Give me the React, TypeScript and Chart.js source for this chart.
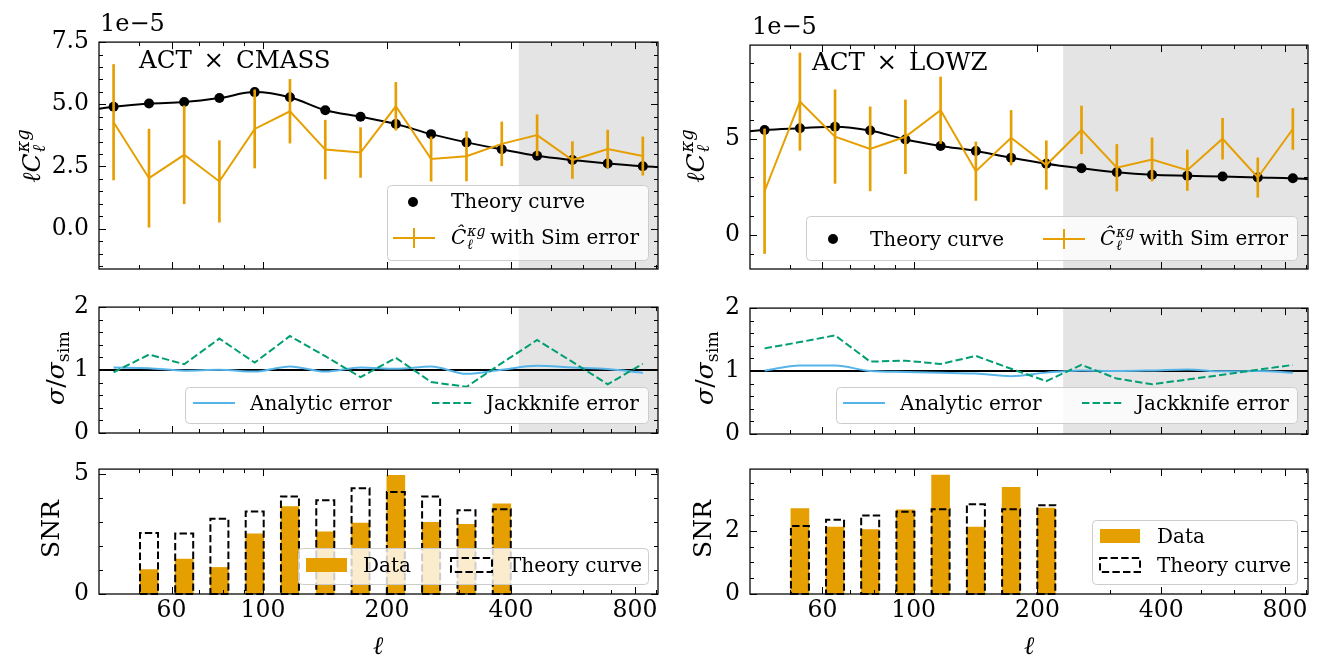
import React, { useEffect, useRef } from "react";
import { Chart, registerables } from "chart.js";

Chart.register(...registerables);

const FONT = "'DejaVu Serif', 'Liberation Serif', serif";
const ORANGE = "#E69F00";
const BLUE = "#56B4E9";
const GREEN = "#009E73";
const SHADE = "#e4e4e4";
const TICK_SIZE = 23.5;

// ---------------- data ----------------
const ELL = [43.4, 52.9, 64.4, 78.4, 95.5, 116.3, 141.7, 172.6, 210.2, 256, 312, 380, 463, 564, 687, 836];
const ELL_RANGE = [40, 910];
const X_MAJOR = [60, 100, 200, 400, 800];
const X_MINOR = [50, 70, 80, 90, 300, 500, 600, 700, 900];
const UNITY = [1, 1];

// ACT x CMASS
const CMASS_THEORY = [4.9, 5.03, 5.09, 5.25, 5.49, 5.28, 4.76, 4.5, 4.21, 3.8, 3.47, 3.19, 2.93, 2.76, 2.62, 2.51];
const CMASS_THEORY_EDGES = [4.82, 2.48];
const CMASS_DATA = [4.28, 2.03, 2.97, 1.9, 4.01, 4.72, 3.18, 3.06, 4.92, 2.8, 2.91, 3.41, 3.76, 2.76, 3.2, 2.92];
const CMASS_SIM_ERR = [2.32, 1.97, 1.97, 1.64, 1.57, 1.28, 1.18, 1.0, 0.96, 0.89, 0.99, 0.88, 0.82, 0.74, 0.76, 0.77];
const CMASS_ANALYTIC = [1.04, 1.03, 0.99, 1.005, 0.975, 1.057, 0.975, 1.04, 1.02, 1.056, 0.94, 1.005, 1.067, 1.04, 1.015, 0.954];
const CMASS_JACKKNIFE = [0.965, 1.246, 1.092, 1.5, 1.118, 1.54, 1.22, 0.887, 1.195, 0.81, 0.733, 1.11, 1.477, 1.13, 0.774, 1.1];
const CMASS_SNR_ELL = ELL.slice(1, 12);
const CMASS_SNR_DATA = [1.02, 1.46, 1.11, 2.51, 3.65, 2.6, 2.96, 4.96, 3.0, 2.91, 3.77];
const CMASS_SNR_THEORY = [2.55, 2.53, 3.14, 3.45, 4.08, 3.92, 4.42, 4.26, 4.08, 3.5, 3.54];
const CMASS_CUT = 418;

// ACT x LOWZ
const LOWZ_THEORY = [5.48, 5.57, 5.65, 5.45, 4.98, 4.64, 4.38, 4.02, 3.71, 3.47, 3.26, 3.13, 3.08, 3.04, 2.99, 2.95];
const LOWZ_THEORY_EDGES = [5.41, 2.9];
const LOWZ_DATA = [2.27, 6.96, 5.13, 4.49, 5.12, 6.51, 3.32, 5.07, 3.64, 5.48, 3.5, 3.93, 3.37, 5.02, 2.99, 5.53];
const LOWZ_SIM_ERR = [3.26, 2.55, 2.45, 2.2, 1.93, 1.74, 1.53, 1.43, 1.27, 1.25, 1.22, 1.13, 1.06, 1.07, 1.03, 1.07];
const LOWZ_ANALYTIC = [1.01, 1.088, 1.088, 1.0, 0.985, 0.974, 0.96, 0.918, 0.975, 1.01, 1.0, 1.01, 1.026, 0.995, 1.0, 0.974];
const LOWZ_JACKKNIFE = [1.36, 1.46, 1.567, 1.15, 1.165, 1.113, 1.24, 1.036, 0.84, 1.098, 0.88, 0.79, 0.866, 0.94, 1.02, 1.098];
const LOWZ_SNR_ELL = ELL.slice(1, 9);
const LOWZ_SNR_DATA = [2.7, 2.12, 2.04, 2.66, 3.76, 2.12, 3.37, 2.72];
const LOWZ_SNR_THEORY = [2.15, 2.35, 2.48, 2.6, 2.68, 2.84, 2.68, 2.81];
const LOWZ_CUT = 231;

// axis ticks
const CMASS_Y1_RANGE = [-1.62, 7.5];
const CMASS_Y1_MAJOR = [0, 2.5, 5, 7.5];
const CMASS_Y1_MINOR = [-1.5, -1, -0.5, 0.5, 1, 1.5, 2, 3, 3.5, 4, 4.5, 5.5, 6, 6.5, 7];
const LOWZ_Y1_RANGE = [-1.8, 9.92];
const LOWZ_Y1_MAJOR = [0, 5];
const LOWZ_Y1_MINOR = [-1, 1, 2, 3, 4, 6, 7, 8, 9];
const RATIO_RANGE = [0, 2];
const RATIO_MAJOR = [0, 1, 2];
const RATIO_MINOR = [0.2, 0.4, 0.6, 0.8, 1.2, 1.4, 1.6, 1.8];
const CMASS_SNR_RANGE = [0, 5.22];
const CMASS_SNR_MAJOR = [0, 5];
const CMASS_SNR_MINOR = [1, 2, 3, 4];
const LOWZ_SNR_RANGE = [0, 3.95];
const LOWZ_SNR_MAJOR = [0, 2];
const LOWZ_SNR_MINOR = [0.5, 1, 1.5, 2.5, 3, 3.5];

// ---------------- layout ----------------
const PADL = 95, PADT = 20, PADR = 15, PADB = 45;
const COL_L = [99, 658];
const COL_R = [750, 1308];

type Spec = {
  key: string;
  plot: number[]; // left, top, right, bottom
  datasets: any[];
  yRange: number[];
  yMajor: number[];
  yMinor: number[];
  yFmt: (v: number) => string;
  showX: boolean;
  shadeFrom?: number;
};

const pts = (xs: number[], ys: number[]) => xs.map((x, i) => ({ x, y: ys[i] }));

function row1Datasets(theory: number[], edges: number[], data: number[], err: number[]) {
  const curve = [
    { x: ELL_RANGE[0], y: edges[0] },
    ...pts(ELL, theory),
    { x: ELL_RANGE[1], y: edges[1] },
  ];
  return [
    { type: "line", data: pts(ELL, data), borderColor: ORANGE, borderWidth: 2, pointRadius: 0, order: 1 },
    {
      type: "bar",
      data: ELL.map((x, i) => ({ x, y: [data[i] - err[i], data[i] + err[i]] })),
      backgroundColor: ORANGE,
      barThickness: 2,
      grouped: false,
      order: 2,
    },
    {
      type: "line",
      data: pts(ELL, theory),
      showLine: false,
      pointRadius: 5,
      pointBackgroundColor: "#000",
      pointBorderWidth: 0,
      order: 3,
    },
    {
      type: "line",
      data: curve,
      borderColor: "#000",
      borderWidth: 2,
      pointRadius: 0,
      cubicInterpolationMode: "monotone",
      order: 4,
    },
  ];
}

function row2Datasets(analytic: number[], jack: number[]) {
  return [
    { type: "line", data: pts(ELL, jack), borderColor: GREEN, borderWidth: 2, borderDash: [7.4, 3.2], pointRadius: 0, order: 1 },
    { type: "line", data: pts(ELL, analytic), borderColor: BLUE, borderWidth: 2, pointRadius: 0, cubicInterpolationMode: "monotone", order: 2 },
    { type: "line", data: pts(ELL_RANGE, UNITY), borderColor: "#000", borderWidth: 2, pointRadius: 0, order: 3 },
  ];
}

function row3Datasets(ell: number[], data: number[], theory: number[]) {
  return [
    { type: "bar", data: pts(ell, data), backgroundColor: ORANGE, barThickness: 18, grouped: false, order: 2 },
    { type: "bar", data: pts(ell, theory), backgroundColor: "rgba(0,0,0,0)", barThickness: 18, grouped: false, dashedOutline: true, order: 1 },
  ];
}

function buildConfig(spec: Spec): any {
  const plugin = {
    id: "mpl_" + spec.key,
    beforeDatasetsDraw(chart: any) {
      if (spec.shadeFrom == null) return;
      const { ctx, chartArea: a, scales } = chart;
      const x0 = scales.x.getPixelForValue(spec.shadeFrom);
      ctx.save();
      ctx.fillStyle = SHADE;
      ctx.fillRect(x0, a.top, a.right - x0, a.bottom - a.top);
      ctx.restore();
    },
    afterDatasetsDraw(chart: any) {
      const { ctx, chartArea: a, scales } = chart;
      chart.data.datasets.forEach((ds: any, i: number) => {
        if (!ds.dashedOutline) return;
        const meta = chart.getDatasetMeta(i);
        ctx.save();
        ctx.strokeStyle = "#000";
        ctx.lineWidth = 2;
        ctx.setLineDash([7.4, 3.2]);
        meta.data.forEach((el: any) => {
          const p = el.getProps(["x", "y", "base", "width"], true);
          const l = p.x - p.width / 2;
          const r = p.x + p.width / 2;
          ctx.beginPath();
          ctx.moveTo(l, p.base);
          ctx.lineTo(r, p.base);
          ctx.lineTo(r, p.y);
          ctx.lineTo(l, p.y);
          ctx.closePath();
          ctx.stroke();
        });
        ctx.restore();
      });
      ctx.save();
      ctx.strokeStyle = "#000";
      ctx.lineWidth = 1;
      const xs = scales.x;
      const ys = scales.y;
      const vt = (v: number, len: number) => {
        const px = Math.round(xs.getPixelForValue(v)) + 0.5;
        ctx.beginPath();
        ctx.moveTo(px, a.bottom);
        ctx.lineTo(px, a.bottom - len);
        ctx.moveTo(px, a.top);
        ctx.lineTo(px, a.top + len);
        ctx.stroke();
      };
      const ht = (v: number, len: number) => {
        const py = Math.round(ys.getPixelForValue(v)) + 0.5;
        ctx.beginPath();
        ctx.moveTo(a.left, py);
        ctx.lineTo(a.left + len, py);
        ctx.moveTo(a.right, py);
        ctx.lineTo(a.right - len, py);
        ctx.stroke();
      };
      X_MAJOR.forEach((v) => vt(v, 7));
      X_MINOR.forEach((v) => vt(v, 4));
      spec.yMajor.forEach((v) => ht(v, 7));
      spec.yMinor.forEach((v) => ht(v, 4));
      ctx.lineWidth = 1.25;
      ctx.strokeRect(a.left, a.top, a.right - a.left, a.bottom - a.top);
      ctx.restore();
    },
  };
  return {
    type: "line",
    data: { datasets: spec.datasets },
    plugins: [plugin],
    options: {
      animation: false,
      responsive: false,
      maintainAspectRatio: false,
      devicePixelRatio: 1,
      events: [],
      layout: { padding: { left: 0, top: PADT, right: PADR, bottom: 0 } },
      plugins: { legend: { display: false }, tooltip: { enabled: false } },
      scales: {
        x: {
          type: "logarithmic",
          min: ELL_RANGE[0],
          max: ELL_RANGE[1],
          offset: false,
          grid: { display: false, drawTicks: false },
          border: { display: false },
          afterBuildTicks: (s: any) => {
            s.ticks = X_MAJOR.map((v) => ({ value: v }));
          },
          afterFit: (s: any) => {
            s.height = PADB;
          },
          ticks: {
            display: spec.showX,
            autoSkip: false,
            maxRotation: 0,
            color: "#000",
            padding: 3,
            font: { family: FONT, size: TICK_SIZE },
            callback: (v: any) => String(v),
          },
        },
        y: {
          type: "linear",
          min: spec.yRange[0],
          max: spec.yRange[1],
          grid: { display: false, drawTicks: false },
          border: { display: false },
          afterBuildTicks: (s: any) => {
            s.ticks = spec.yMajor.map((v) => ({ value: v }));
          },
          afterFit: (s: any) => {
            s.width = PADL;
          },
          ticks: {
            autoSkip: false,
            color: "#000",
            padding: 10,
            font: { family: FONT, size: TICK_SIZE },
            callback: (v: any) => spec.yFmt(Number(v)),
          },
        },
      },
    },
  };
}

function ChartPanel({ spec }: { spec: Spec }) {
  const ref = useRef<HTMLCanvasElement>(null);
  const [l, t, r, b] = spec.plot;
  const W = r - l + PADL + PADR;
  const H = b - t + PADT + PADB;
  useEffect(() => {
    const chart = new Chart(ref.current as HTMLCanvasElement, buildConfig(spec));
    return () => chart.destroy();
  }, []);
  return (
    <canvas
      ref={ref}
      width={W}
      height={H}
      style={{ position: "absolute", left: l - PADL, top: t - PADT, width: W, height: H }}
    />
  );
}

const fmt1 = (v: number) => v.toFixed(1);
const fmt0 = (v: number) => String(v);

const SPECS: Spec[] = [
  {
    key: "c1", plot: [COL_L[0], 38, COL_L[1], 269],
    datasets: row1Datasets(CMASS_THEORY, CMASS_THEORY_EDGES, CMASS_DATA, CMASS_SIM_ERR),
    yRange: CMASS_Y1_RANGE, yMajor: CMASS_Y1_MAJOR, yMinor: CMASS_Y1_MINOR, yFmt: fmt1, showX: false, shadeFrom: CMASS_CUT,
  },
  {
    key: "c2", plot: [COL_L[0], 303, COL_L[1], 433],
    datasets: row2Datasets(CMASS_ANALYTIC, CMASS_JACKKNIFE),
    yRange: RATIO_RANGE, yMajor: RATIO_MAJOR, yMinor: RATIO_MINOR, yFmt: fmt0, showX: false, shadeFrom: CMASS_CUT,
  },
  {
    key: "c3", plot: [COL_L[0], 465, COL_L[1], 594],
    datasets: row3Datasets(CMASS_SNR_ELL, CMASS_SNR_DATA, CMASS_SNR_THEORY),
    yRange: CMASS_SNR_RANGE, yMajor: CMASS_SNR_MAJOR, yMinor: CMASS_SNR_MINOR, yFmt: fmt0, showX: true,
  },
  {
    key: "l1", plot: [COL_R[0], 41, COL_R[1], 269],
    datasets: row1Datasets(LOWZ_THEORY, LOWZ_THEORY_EDGES, LOWZ_DATA, LOWZ_SIM_ERR),
    yRange: LOWZ_Y1_RANGE, yMajor: LOWZ_Y1_MAJOR, yMinor: LOWZ_Y1_MINOR, yFmt: fmt0, showX: false, shadeFrom: LOWZ_CUT,
  },
  {
    key: "l2", plot: [COL_R[0], 304, COL_R[1], 434],
    datasets: row2Datasets(LOWZ_ANALYTIC, LOWZ_JACKKNIFE),
    yRange: RATIO_RANGE, yMajor: RATIO_MAJOR, yMinor: RATIO_MINOR, yFmt: fmt0, showX: false, shadeFrom: LOWZ_CUT,
  },
  {
    key: "l3", plot: [COL_R[0], 465, COL_R[1], 594],
    datasets: row3Datasets(LOWZ_SNR_ELL, LOWZ_SNR_DATA, LOWZ_SNR_THEORY),
    yRange: LOWZ_SNR_RANGE, yMajor: LOWZ_SNR_MAJOR, yMinor: LOWZ_SNR_MINOR, yFmt: fmt0, showX: true,
  },
];

// ---------------- text helpers ----------------
function Txt({ x, y, size, children, rotate, center }: any) {
  let tf = "translateY(-50%)";
  if (rotate) tf = "translate(-50%,-50%) rotate(-90deg)";
  else if (center) tf = "translate(-50%,-50%)";
  return (
    <div
      style={{
        position: "absolute",
        left: x,
        top: y,
        transform: tf,
        fontFamily: FONT,
        fontSize: size,
        lineHeight: 1,
        whiteSpace: "nowrap",
        color: "#000",
      }}
    >
      {children}
    </div>
  );
}

function SupSub({ sup, sub, size }: any) {
  const s = Math.round(size * 0.7);
  return (
    <span
      style={{
        display: "inline-block",
        position: "relative",
        width: s * 1.25,
        height: size * 0.8,
        verticalAlign: "baseline",
      }}
    >
      <span style={{ position: "absolute", left: 1, bottom: size * 0.31, fontSize: s, lineHeight: 1, fontStyle: "italic" }}>{sup}</span>
      <span style={{ position: "absolute", left: 1, bottom: -size * 0.33, fontSize: s, lineHeight: 1, fontStyle: "italic" }}>{sub}</span>
    </span>
  );
}

const ClLabel = ({ size }: any) => (
  <span>
    <i>ℓC</i>
    <SupSub sup="κg" sub="ℓ" size={size} />
  </span>
);

const ChatLabel = ({ size }: any) => (
  <span>
    <i>Ĉ</i>
    <SupSub sup="κg" sub="ℓ" size={size} /> with Sim error
  </span>
);

const SigmaLabel = () => (
  <span>
    <i>σ</i>/<i>σ</i>
    <span style={{ fontSize: "0.7em", position: "relative", top: "0.3em" }}>sim</span>
  </span>
);

const Times = () => <span style={{ margin: "0 4px" }}>×</span>;

function LegendBox({ x0, y0, x1, y1 }: any) {
  return (
    <rect x={x0 + 0.5} y={y0 + 0.5} width={x1 - x0} height={y1 - y0} rx={4} ry={4}
      fill="rgba(255,255,255,0.8)" stroke="#cccccc" strokeWidth={1} />
  );
}

const ErrGlyph = ({ x0, x1, y }: any) => (
  <g stroke={ORANGE} strokeWidth={2}>
    <line x1={x0} y1={y} x2={x1} y2={y} />
    <line x1={(x0 + x1) / 2} y1={y - 10} x2={(x0 + x1) / 2} y2={y + 10} />
  </g>
);

export default function App() {
  return (
    <div style={{ position: "absolute", left: 0, top: 0, width: 1317, height: 656, background: "#fff", overflow: "hidden" }}>
      {SPECS.map((s) => (
        <ChartPanel key={s.key} spec={s} />
      ))}
      <svg width={1317} height={656} style={{ position: "absolute", left: 0, top: 0 }}>
        {/* left row 1 */}
        <LegendBox x0={387} y0={185} x1={648} y1={260} />
        <circle cx={413} cy={202} r={5} fill="#000" />
        <ErrGlyph x0={393} x1={435} y={238} />
        {/* right row 1 */}
        <LegendBox x0={806} y0={216} x1={1297} y1={260} />
        <circle cx={833} cy={239} r={5} fill="#000" />
        <ErrGlyph x0={1043} x1={1085} y={239} />
        {/* row 2 */}
        <LegendBox x0={185} y0={387} x1={648} y1={423} />
        <line x1={193} y1={403} x2={235} y2={403} stroke={BLUE} strokeWidth={2} />
        <line x1={432} y1={403} x2={472} y2={403} stroke={GREEN} strokeWidth={2} strokeDasharray="7.4 3.2" />
        <LegendBox x0={836} y0={387} x1={1297} y1={423} />
        <line x1={843} y1={403} x2={885} y2={403} stroke={BLUE} strokeWidth={2} />
        <line x1={1082} y1={403} x2={1122} y2={403} stroke={GREEN} strokeWidth={2} strokeDasharray="7.4 3.2" />
        {/* row 3 */}
        <LegendBox x0={298} y0={548} x1={648} y1={584} />
        <rect x={306} y={558} width={41} height={14} fill={ORANGE} />
        <rect x={451} y={558} width={41} height={14} fill="none" stroke="#000" strokeWidth={2} strokeDasharray="7.4 3.2" />
        <LegendBox x0={1092} y0={520} x1={1297} y1={584} />
        <rect x={1100} y={529} width={40} height={14} fill={ORANGE} />
        <rect x={1100} y={558} width={40} height={14} fill="none" stroke="#000" strokeWidth={2} strokeDasharray="7.4 3.2" />
      </svg>

      {/* annotations */}
      <Txt x={100} y={23} size={24}>1e−5</Txt>
      <Txt x={752} y={26} size={24}>1e−5</Txt>
      <Txt x={139} y={60} size={24.5}>ACT <Times /> CMASS</Txt>
      <Txt x={812} y={62} size={24.5}>ACT <Times /> LOWZ</Txt>

      {/* axis titles */}
      <Txt x={31} y={157} size={25} rotate><ClLabel size={25} /></Txt>
      <Txt x={695} y={157} size={25} rotate><ClLabel size={25} /></Txt>
      <Txt x={55} y={368} size={25} rotate><SigmaLabel /></Txt>
      <Txt x={704} y={368} size={25} rotate><SigmaLabel /></Txt>
      <Txt x={50} y={529} size={25} rotate>SNR</Txt>
      <Txt x={702} y={529} size={25} rotate>SNR</Txt>
      <Txt x={378} y={645} size={25} center><i>ℓ</i></Txt>
      <Txt x={1029} y={645} size={25} center><i>ℓ</i></Txt>

      {/* legend labels */}
      <Txt x={451} y={201} size={20}>Theory curve</Txt>
      <Txt x={451} y={237} size={20}><ChatLabel size={20} /></Txt>
      <Txt x={870} y={239} size={20}>Theory curve</Txt>
      <Txt x={1100} y={238} size={20}><ChatLabel size={20} /></Txt>
      <Txt x={250} y={403} size={20}>Analytic error</Txt>
      <Txt x={486} y={403} size={20}>Jackknife error</Txt>
      <Txt x={900} y={403} size={20}>Analytic error</Txt>
      <Txt x={1136} y={403} size={20}>Jackknife error</Txt>
      <Txt x={363} y={565} size={20}>Data</Txt>
      <Txt x={508} y={565} size={20}>Theory curve</Txt>
      <Txt x={1157} y={536} size={20}>Data</Txt>
      <Txt x={1157} y={565} size={20}>Theory curve</Txt>
    </div>
  );
}
